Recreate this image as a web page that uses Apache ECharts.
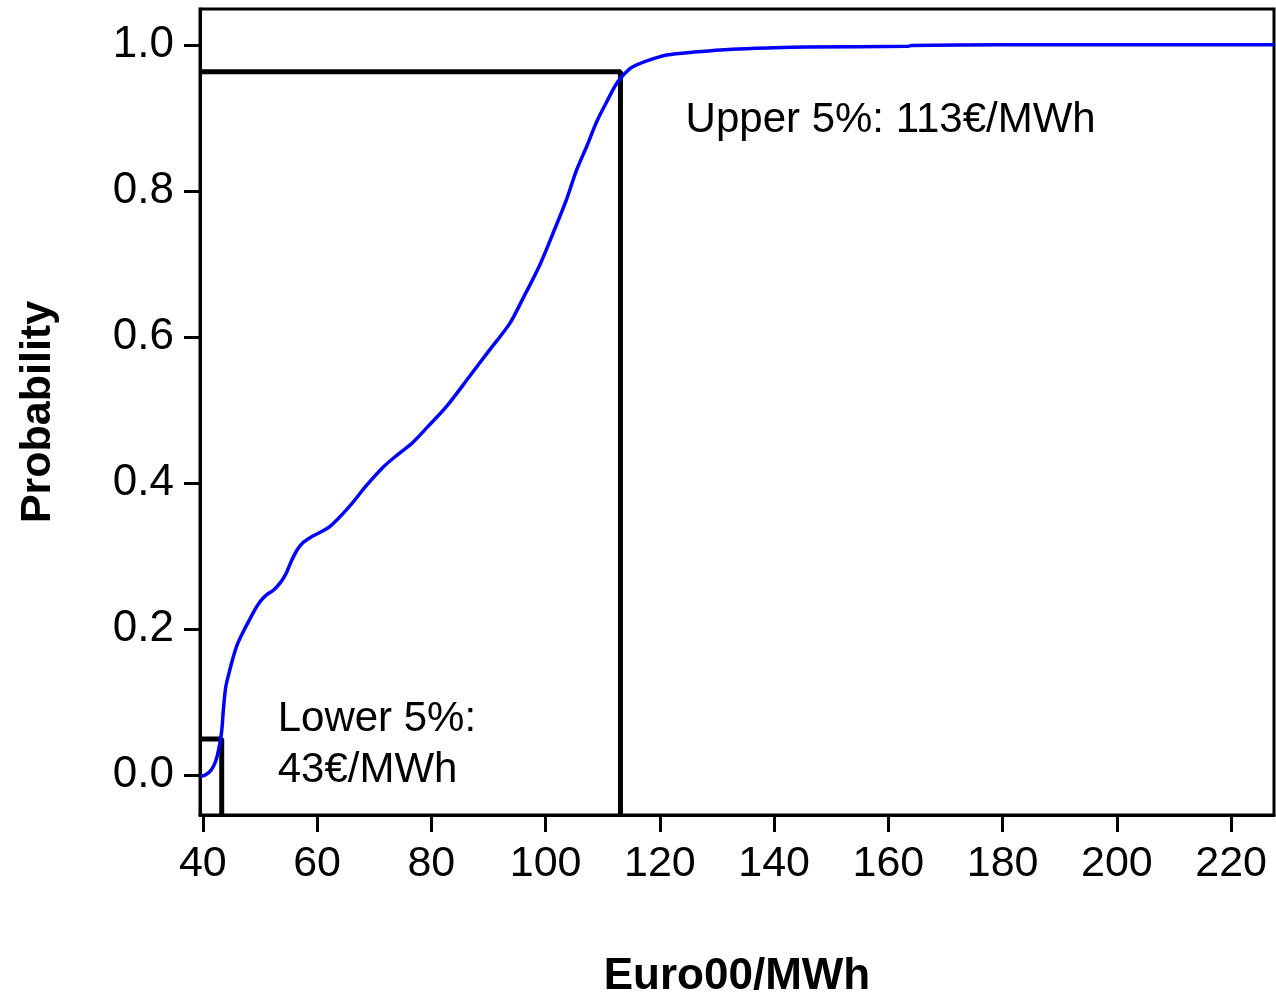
<!DOCTYPE html>
<html>
<head>
<meta charset="utf-8">
<script src="https://cdn.jsdelivr.net/npm/echarts@6.0.0/dist/echarts.min.js"></script>
<style>
  html, body { margin: 0; padding: 0; background: #fff; }
  #chart { width: 1276px; height: 997px; }
</style>
</head>
<body>
<div id="chart"></div>
<script>
// cumulative distribution
const priceX = [39.6, 40.5, 41.5, 42.3, 42.9, 43.3, 43.6, 44.0, 44.6, 45.2, 46.0, 47.0, 48.2, 49.4, 50.3,
    51.2, 52.2, 53.0, 53.9, 54.7, 55.5, 56.5, 57.5, 59.0, 62.2, 65.7, 68.5, 71.5, 74.0, 76.7, 79.5,
    82.7, 86.7, 90.0, 93.7, 96.0, 98.9, 101.2, 103.7, 105.4, 107.2, 108.9, 110.7, 112.6,
    114.7, 116.4, 118.5, 121.2, 126.0, 132.7, 140.0, 145.6, 163.5, 164.0, 180.0, 227.5]
const probY = [-0.002, 0.0, 0.007, 0.02, 0.04, 0.06, 0.09, 0.12, 0.14, 0.158, 0.178, 0.195, 0.213, 0.23, 0.24,
    0.247, 0.252, 0.258, 0.267, 0.278, 0.293, 0.308, 0.318, 0.326, 0.340, 0.368, 0.395, 0.421, 0.438, 0.455, 0.478,
    0.505, 0.546, 0.580, 0.618, 0.652, 0.697, 0.740, 0.789, 0.828, 0.861, 0.894, 0.922, 0.949,
    0.967, 0.974, 0.980, 0.986, 0.990, 0.994, 0.996, 0.997, 0.998, 0.999, 1.0, 1.0]

const xTicks = [40, 60, 80, 100, 120, 140, 160, 180, 200, 220]
const yTicks = [0, 0.2, 0.4, 0.6, 0.8, 1.0]

// percentile markers
const upperLevel = 0.963
const upperPrice = 113.1
const lowerLevel = 0.049
const lowerPrice = 43.3

const xMin = 39.5
const xMax = 227.5
const yMin = -0.055
const yMax = 1.049

const upperText = 'Upper 5%: 113€/MWh'
const lowerText = 'Lower 5%:\n43€/MWh'

const chart = echarts.init(document.getElementById('chart'))
const font = 'Liberation Sans, Arial, sans-serif'

chart.setOption({
    animation: false,
    backgroundColor: '#fff',
    grid: {
        left: 200, right: 2, top: 9, bottom: 182,
        outerBoundsMode: 'none',
        containLabel: false,
        show: true,
        borderColor: '#000',
        borderWidth: 3
    },
    xAxis: {
        type: 'value',
        min: xMin,
        max: xMax,
        name: 'Euro00/MWh',
        nameLocation: 'middle',
        nameGap: 140,
        nameTextStyle: { fontFamily: font, fontSize: 44, fontWeight: 'bold', color: '#000' },
        axisLine: { show: true, onZero: false, lineStyle: { color: '#000', width: 3 } },
        axisTick: { show: true, length: 17, customValues: xTicks, lineStyle: { color: '#000', width: 3 } },
        axisLabel: { customValues: xTicks, margin: 28, fontFamily: font, fontSize: 43, color: '#000' },
        splitLine: { show: false }
    },
    yAxis: {
        type: 'value',
        min: yMin,
        max: yMax,
        name: 'Probability',
        nameLocation: 'middle',
        nameGap: 140,
        nameTextStyle: { fontFamily: font, fontSize: 43, fontWeight: 'bold', color: '#000' },
        axisLine: { show: true, onZero: false, lineStyle: { color: '#000', width: 3 } },
        axisTick: { show: true, length: 16, customValues: yTicks, lineStyle: { color: '#000', width: 3 } },
        axisLabel: {
            customValues: yTicks, margin: 26, fontFamily: font, fontSize: 44, color: '#000',
            formatter: v => v.toFixed(1)
        },
        splitLine: { show: false }
    },
    series: [
        {
            type: 'line',
            data: priceX.map((x, i) => [x, probY[i]]),
            showSymbol: false,
            smooth: 0.3,
            lineStyle: { color: '#0000ff', width: 3.5 },
            z: 3
        },
        {
            type: 'line',
            data: [[xMin, upperLevel], [upperPrice, upperLevel], [upperPrice, yMin]],
            showSymbol: false,
            lineStyle: { color: '#000', width: 5 },
            z: 2
        },
        {
            type: 'line',
            data: [[xMin, lowerLevel], [lowerPrice, lowerLevel], [lowerPrice, yMin]],
            showSymbol: false,
            lineStyle: { color: '#000', width: 5 },
            z: 2
        },
        {
            type: 'scatter',
            symbolSize: 0,
            itemStyle: { opacity: 1 },
            data: [
                { value: [124.5, 0.897], name: upperText },
                { value: [53.1, 0.041], name: lowerText }
            ],
            label: {
                show: true,
                position: 'right',
                distance: 0,
                formatter: p => p.name,
                fontFamily: font,
                fontSize: 42,
                lineHeight: 51,
                color: '#000',
                opacity: 1
            },
            z: 4
        }
    ]
})
</script>
</body>
</html>
